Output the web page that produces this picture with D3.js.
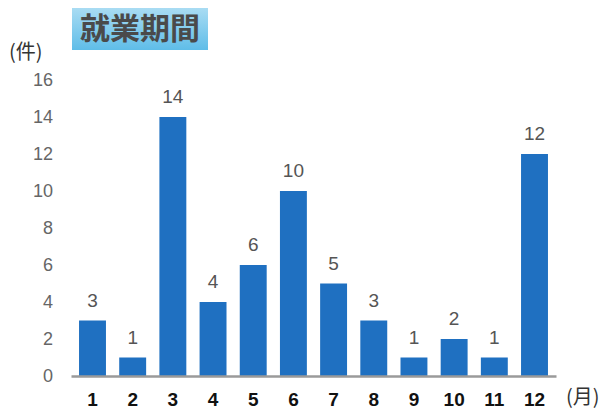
<!DOCTYPE html>
<html>
<head>
<meta charset="utf-8">
<script src="https://cdn.jsdelivr.net/npm/d3@7"></script>
<style>
  body { margin: 0; background: #fff; }
  text { font-family: "Liberation Sans", Arial, sans-serif; }
</style>
</head>
<body>
<div id="chart"></div>
<script>
var months = ["1", "2", "3", "4", "5", "6", "7", "8", "9", "10", "11", "12"];
var counts = [3, 1, 14, 4, 6, 10, 5, 3, 1, 2, 1, 12];
var yTicks = [0, 2, 4, 6, 8, 10, 12, 14, 16];
var title = "就業期間";

var width = 611, height = 419;
var margin = {top: 80, right: 55, bottom: 43, left: 71};
var chartW = width - margin.left - margin.right,
    chartH = height - margin.top - margin.bottom;

var svg = d3.select("#chart").append("svg")
    .attr("width", width)
    .attr("height", height);

var defs = svg.append("defs");
var grad = defs.append("linearGradient").attr("id", "titleGrad")
    .attr("x1", 0).attr("y1", 0).attr("x2", 0).attr("y2", 1);
grad.append("stop").attr("offset", "0%").attr("stop-color", "#a9dcf3");
grad.append("stop").attr("offset", "100%").attr("stop-color", "#5fbde8");

// title box
svg.append("rect")
    .attr("x", 72).attr("y", 8)
    .attr("width", 136).attr("height", 42)
    .attr("fill", "url(#titleGrad)");
svg.append("text")
    .attr("x", 140).attr("y", 39)
    .attr("text-anchor", "middle")
    .style("font-family", "'Noto Sans CJK JP', sans-serif")
    .style("font-weight", "bold")
    .style("font-size", "30px")
    .attr("fill", "#4a4a4a")
    .text(title);

var g = svg.append("g")
    .attr("transform", "translate(" + margin.left + "," + margin.top + ")");

var x = d3.scaleBand()
    .domain(months)
    .range([0, chartW])
    .paddingInner(0.33)
    .paddingOuter(0.2);

var y = d3.scaleLinear()
    .domain([0, 16])
    .range([chartH, 0]);

// y axis labels (no line)
var yAxis = g.append("g")
    .call(d3.axisLeft(y).tickValues(yTicks).tickSize(0).tickPadding(18));
yAxis.select(".domain").remove();
yAxis.selectAll("text")
    .style("font-size", "18px")
    .attr("fill", "#666");

// bars
g.selectAll(".bar")
    .data(counts)
    .enter().append("rect")
    .attr("class", "bar")
    .attr("x", function(d, i) { return x(months[i]); })
    .attr("y", function(d) { return y(d); })
    .attr("width", x.bandwidth())
    .attr("height", function(d) { return chartH - y(d); })
    .attr("fill", "#1f70c1");

// value labels
g.selectAll(".val")
    .data(counts)
    .enter().append("text")
    .attr("class", "val")
    .attr("x", function(d, i) { return x(months[i]) + x.bandwidth() / 2; })
    .attr("y", function(d) { return y(d) - 14; })
    .attr("text-anchor", "middle")
    .style("font-size", "19px")
    .attr("fill", "#555")
    .text(function(d) { return d; });

// x axis
var xAxis = g.append("g")
    .attr("transform", "translate(0," + chartH + ")")
    .call(d3.axisBottom(x).tickSize(0).tickPadding(17));
xAxis.select(".domain")
    .attr("stroke", "#9a9a9a")
    .attr("stroke-width", 2.5);
xAxis.selectAll("text")
    .style("font-size", "19px")
    .style("font-weight", "bold")
    .attr("fill", "#111");

// unit labels
svg.append("text")
    .attr("x", 9).attr("y", 59)
    .style("font-family", "'Noto Sans CJK JP', sans-serif")
    .style("font-size", "20px")
    .attr("fill", "#333")
    .text("(件)");
svg.append("text")
    .attr("x", 566).attr("y", 404)
    .style("font-family", "'Noto Sans CJK JP', sans-serif")
    .style("font-size", "20px")
    .attr("fill", "#333")
    .text("(月)");
</script>
</body>
</html>
